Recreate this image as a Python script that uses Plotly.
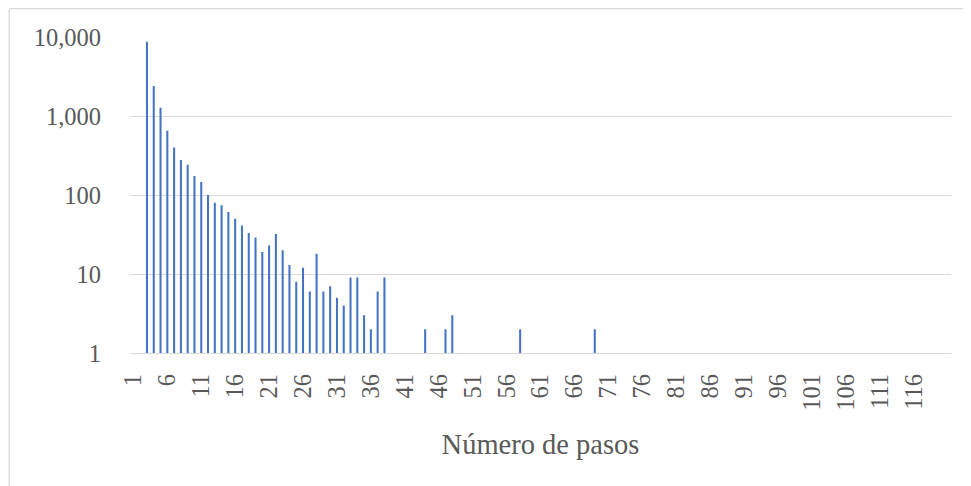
import plotly.graph_objects as go

# Data
steps = [3, 4, 5, 6, 7, 8, 9, 10, 11, 12, 13, 14, 15, 16, 17, 18, 19, 20,
         21, 22, 23, 24, 25, 26, 27, 28, 29, 30, 31, 32, 33, 34, 35, 36, 37, 38,
         44, 47, 48, 58, 69]
counts = [8700, 2400, 1270, 650, 400, 277, 241, 174, 146, 100, 80, 74, 61, 50, 41, 33, 29, 19,
          23, 32, 20, 13, 8, 12, 6, 18, 6, 7, 5, 4, 9, 9, 3, 2, 6, 9,
          2, 2, 3, 2, 2]
x_tickvals = [1, 6, 11, 16, 21, 26, 31, 36, 41, 46, 51, 56, 61, 66, 71, 76, 81, 86, 91, 96,
              101, 106, 111, 116]
x_ticktext = [str(v) for v in x_tickvals]
y_tickvals = [1, 10, 100, 1000, 10000]
y_ticktext = ["1", "10", "100", "1,000", "10,000"]
x_title = "Número de pasos"

# page has an 8px body margin; figure is placed at (8, 8)
OFF = 8
W, H = 971 - OFF, 486 - OFF
L, R, T, B = 129.5 - OFF, 20, 37 - OFF, 133
pw = W - L - R
ph = H - T - B

def px2x(px):
    return (px - OFF - L) / pw

def py2y(py):
    return (H - B - (py - OFF)) / ph

FONT = "Liberation Serif"
GRAY = "#595959"
GRID = "#d9d9d9"

fig = go.Figure()
fig.add_trace(go.Bar(x=steps, y=counts, width=0.3, marker=dict(color="#4472C4", line=dict(width=0))))

fig.update_layout(
    width=W, height=H,
    margin=dict(l=L, r=R, t=T, b=B),
    paper_bgcolor="white", plot_bgcolor="white",
    showlegend=False,
    font=dict(family=FONT, color=GRAY, size=24),
    xaxis=dict(
        range=[0.5, 121.5],
        tickmode="array", tickvals=x_tickvals, ticktext=x_ticktext,
        tickangle=-90,
        tickfont=dict(family=FONT, size=24.5, color=GRAY),
        showgrid=False, zeroline=False,
        showline=True, linecolor=GRID, linewidth=1.3,
        ticks="", ticklabelstandoff=10,
        title=dict(text=x_title, font=dict(family=FONT, size=28.5, color=GRAY), standoff=24),
    ),
    yaxis=dict(
        type="log", range=[0, 4],
        tickmode="array", tickvals=y_tickvals, ticktext=y_ticktext,
        tickfont=dict(family=FONT, size=24.5, color=GRAY),
        showgrid=True, gridcolor=GRID, gridwidth=1.3,
        zeroline=False, showline=False, ticks="",
        ticklabelstandoff=28,
    ),
    shapes=[
        dict(type="line", xref="paper", yref="paper",
             x0=px2x(8.7), x1=px2x(980), y0=py2y(8.7), y1=py2y(8.7),
             line=dict(color=GRID, width=1.3)),
        dict(type="line", xref="paper", yref="paper",
             x0=px2x(8.7), x1=px2x(8.7), y0=py2y(8.7), y1=py2y(495),
             line=dict(color=GRID, width=1.3)),
    ],
)

fig.write_html("out.html")
